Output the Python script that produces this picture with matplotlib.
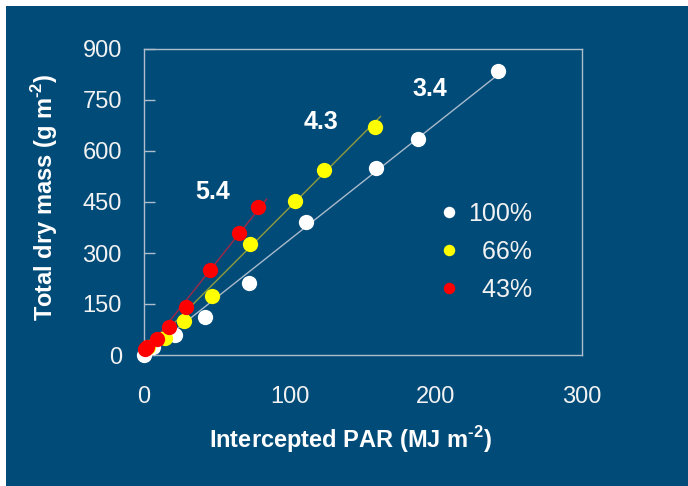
import numpy as np
import matplotlib
matplotlib.use("Agg")
import matplotlib.pyplot as plt
from matplotlib.patches import Rectangle

plt.rcParams['font.family'] = ['Liberation Sans', 'DejaVu Sans']
plt.rcParams['mathtext.fontset'] = 'custom'
plt.rcParams['mathtext.rm'] = 'Liberation Sans:bold'
plt.rcParams['mathtext.bf'] = 'Liberation Sans:bold'

# ---- data ----
par_100 = [0, 6.4, 21.2, 41.8, 71.9, 111, 159, 188, 242.5]
dm_100 = [0, 24, 59, 113, 212, 391, 550, 635, 835]

par_66 = [3, 14.4, 27.4, 46.8, 72.8, 103.4, 123.3, 158]
dm_66 = [25, 50, 101, 173, 326, 454, 544, 670]

par_43 = [0.7, 1.8, 8.7, 17.1, 28.8, 45.4, 64.8, 78.3]
dm_43 = [17, 24, 46, 83, 142, 250, 360, 434]

slopes = [3.4, 4.3, 5.4]
intercepts = [0, 5, 5]
fit_xmax = [245, 162, 84]
slope_labels = ["3.4", "4.3", "5.4"]
slope_label_x = [196, 121, 47]
slope_label_y = [782, 685, 479]

series_labels = ["100%", "  66%", "  43%"]
xticks = [0, 100, 200, 300]
yticks = [0, 150, 300, 450, 600, 750, 900]

# ---- style ----
bg = '#014B78'
spine_c = '#AEBCCB'
marker_colors = ['white', '#FFFF00', '#FF0000']
line_colors = ['#A9BACB', '#8E9C3E', '#A02848']

fig = plt.figure(figsize=(6.88, 4.86), dpi=100, facecolor='white')
fig.patches.append(Rectangle((6/688, 0), 1 - 6/688, (486 - 6)/486,
                             transform=fig.transFigure, facecolor=bg,
                             edgecolor='none', zorder=-10))
ax = fig.add_axes([144/688, (486-355)/486, 438/688, 306/486])
ax.set_facecolor(bg)

xs_list = [par_100, par_66, par_43]
ys_list = [dm_100, dm_66, dm_43]
for i in range(3):
    xf = np.array([0, fit_xmax[i]])
    ax.plot(xf, slopes[i]*xf + intercepts[i], color=line_colors[i], lw=1.0,
            zorder=2 + i, clip_on=False)
handles = []
for i in range(3):
    h, = ax.plot(xs_list[i], ys_list[i], linestyle='none', marker='o',
                 markersize=11, markerfacecolor=marker_colors[i],
                 markeredgecolor='none', zorder=5 + i, clip_on=False,
                 label=series_labels[i])
    handles.append(h)

for i in range(3):
    ax.text(slope_label_x[i], slope_label_y[i], slope_labels[i], color='white',
            fontsize=18, fontweight='bold', ha='center', va='center')

ax.set_xlim(0, 300)
ax.set_ylim(0, 900)
ax.set_xticks(xticks)
ax.set_yticks(yticks)
for s in ax.spines.values():
    s.set_color(spine_c)
    s.set_linewidth(1.0)
ax.tick_params(axis='y', direction='in', length=8, width=1, color=spine_c,
               labelcolor='#F2F2F2', labelsize=17, pad=16)
ax.tick_params(axis='x', length=0, labelcolor='#F2F2F2', labelsize=17, pad=22)

ax.set_xlabel('Intercepted PAR (MJ m$^{\\text{-2}}$)', color='white',
              fontsize=17, fontweight='bold')
ax.set_ylabel('Total dry mass (g m$^{\\text{-2}}$)', color='white',
              fontsize=17, fontweight='bold')
ax.xaxis.set_label_coords((351-144)/438, (355-440)/306)
ax.xaxis.label.set_va('center')
ax.yaxis.set_label_coords((45-144)/438, (355-197)/306)
ax.yaxis.label.set_va('center')

leg = ax.legend(handles=handles, loc='center left',
                bbox_to_anchor=((429-144)/438, (355-252)/306),
                frameon=False, fontsize=18, labelcolor='#F2F2F2',
                markerscale=0.75, handlelength=0.6, handletextpad=0.45,
                labelspacing=0.55, borderpad=0)

fig.savefig('out.png', dpi=100, facecolor=fig.get_facecolor())
